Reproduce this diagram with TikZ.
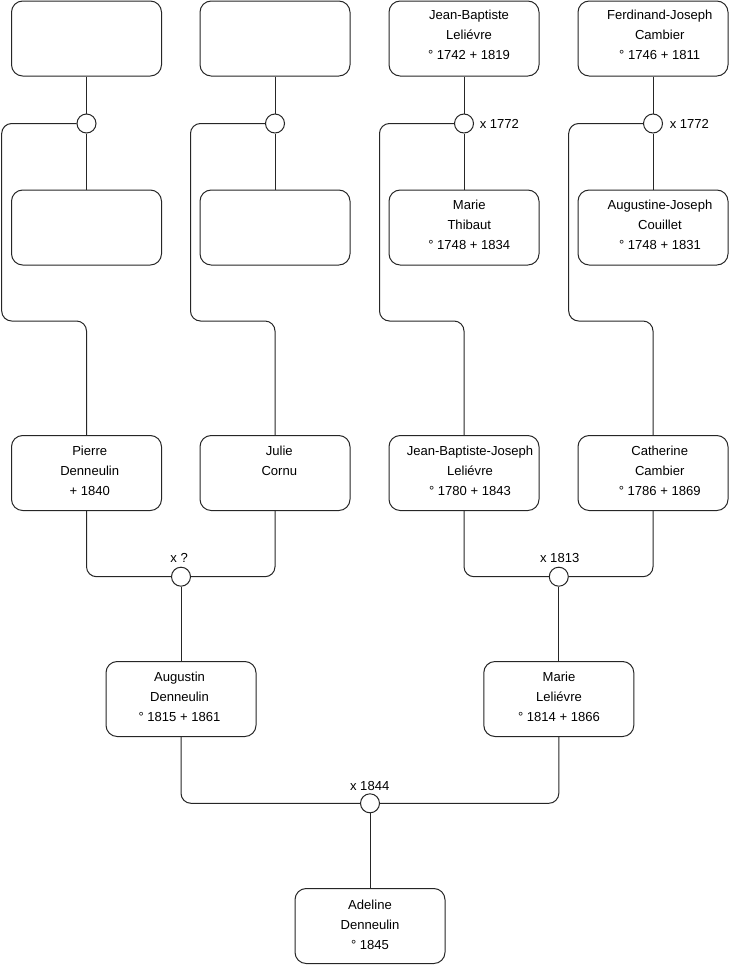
\documentclass[tikz,border=0pt]{standalone}
\usepackage{fontspec}
\setmainfont{Liberation Sans}
\begin{document}
\begin{tikzpicture}[x=0.75pt,y=-0.75pt,
  pbox/.style={draw=black!85, line width=0.75pt, rounded corners=8.4pt, minimum width=112.5pt, minimum height=56.25pt, inner sep=0pt, fill=white},
  mc/.style={circle, draw=black!85, line width=0.75pt, fill=white, minimum size=14.25pt, inner sep=0pt},
  conn/.style={draw=black!85, line width=0.75pt, rounded corners=7.5pt},
  txt/.style={align=center, inner sep=0pt, font=\fontsize{9.8}{15}\selectfont},
  lbl/.style={inner sep=0pt, font=\fontsize{9.8}{11}\selectfont}]
\useasboundingbox (0,0) rectangle (740,975);

% row 1
\node[pbox] (A1) at (86.5,38.5) {};
\node[pbox] (B1) at (275,38.5) {};
\node[pbox] (C1) at (464,38.5) {};
\node[pbox] (D1) at (653,38.5) {};
% row 2
\node[pbox] (A2) at (86.5,227.5) {};
\node[pbox] (B2) at (275,227.5) {};
\node[pbox] (C2) at (464,227.5) {};
\node[pbox] (D2) at (653,227.5) {};
% row 3
\node[pbox] (A3) at (86.5,473) {};
\node[pbox] (B3) at (275,473) {};
\node[pbox] (C3) at (464,473) {};
\node[pbox] (D3) at (653,473) {};
% row 4
\node[pbox] (A4) at (181,699) {};
\node[pbox] (C4) at (558.8,699) {};
% row 5
\node[pbox] (E5) at (370,926) {};

% marriage circles
\node[mc] (m1) at (86.5,123.5) {};
\node[mc] (m2) at (275,123.5) {};
\node[mc] (m3) at (464,123.5) {};
\node[mc] (m4) at (653,123.5) {};
\node[mc] (m5) at (181,576.7) {};
\node[mc] (m6) at (558.8,576.7) {};
\node[mc] (m7) at (370,803.3) {};

% connectors
\draw[conn] (A1) -- (m1); \draw[conn] (m1) -- (A2);
\draw[conn] (B1) -- (m2); \draw[conn] (m2) -- (B2);
\draw[conn] (C1) -- (m3); \draw[conn] (m3) -- (C2);
\draw[conn] (D1) -- (m4); \draw[conn] (m4) -- (D2);
\draw[conn] (m1.west) -| (1.7,321) -| (A3.north);
\draw[conn] (m2.west) -| (190.5,321) -| (B3.north);
\draw[conn] (m3.west) -| (379.5,321) -| (C3.north);
\draw[conn] (m4.west) -| (568.7,321) -| (D3.north);
\draw[conn] (A3.south) |- (m5.west);
\draw[conn] (B3.south) |- (m5.east);
\draw[conn] (m5) -- (A4);
\draw[conn] (C3.south) |- (m6.west);
\draw[conn] (D3.south) |- (m6.east);
\draw[conn] (m6) -- (C4);
\draw[conn] (A4.south) |- (m7.west);
\draw[conn] (C4.south) |- (m7.east);
\draw[conn] (m7) -- (E5);

% texts
\node[txt] (tC1) at (469,35.3) {Jean-Baptiste\\Leliévre\\° 1742 + 1819};
\node[txt] (tD1) at (659.7,35.3) {Ferdinand-Joseph\\Cambier\\° 1746 + 1811};
\node[txt] (tC2) at (469.3,225.3) {Marie\\Thibaut\\° 1748 + 1834};
\node[txt] (tD2) at (660,225.3) {Augustine-Joseph\\Couillet\\° 1748 + 1831};
\node[txt] (tA3) at (89.7,470.7) {Pierre\\Denneulin\\+ 1840};
\node[txt] (tB3) at (279.3,470.7) {Julie\\Cornu\\\vphantom{0}};
\node[txt] (tC3) at (470,470.7) {Jean-Baptiste-Joseph\\Leliévre\\° 1780 + 1843};
\node[txt] (tD3) at (659.7,470.7) {Catherine\\Cambier\\° 1786 + 1869};
\node[txt] (tA4) at (179.5,697.3) {Augustin\\Denneulin\\° 1815 + 1861};
\node[txt] (tC4) at (559,697.3) {Marie\\Leliévre\\° 1814 + 1866};
\node[txt] (tE5) at (370,925) {Adeline\\Denneulin\\° 1845};

% marriage labels
\node[lbl, anchor=west] (l3) at (479.5,123.5) {x 1772};
\node[lbl, anchor=west] (l4) at (669.5,123.5) {x 1772};
\node[lbl] (l5) at (179.2,558.3) {x ?};
\node[lbl] (l6) at (559.7,558.3) {x 1813};
\node[lbl] (l7) at (369.7,785.7) {x 1844};
\end{tikzpicture}
\end{document}
